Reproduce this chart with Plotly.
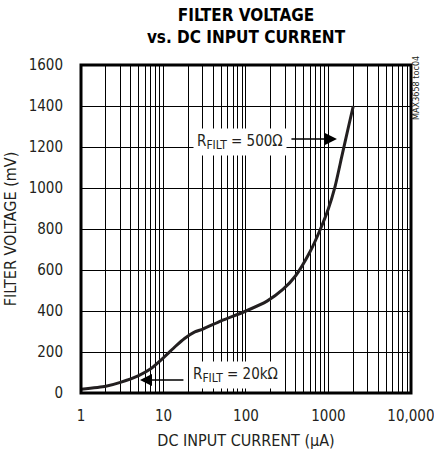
import plotly.graph_objects as go

current_uA = [1, 2, 3, 5, 7, 10, 14, 18, 24, 30, 50, 100, 180, 280, 400, 600, 800, 1000, 1200, 1450, 1750, 2000]
filter_mV = [18, 33, 52, 85, 118, 172, 228, 266, 298, 312, 352, 400, 448, 505, 572, 690, 800, 900, 1006, 1153, 1299, 1400]

x_tickvals = [1, 10, 100, 1000, 10000]
x_ticktext = ["1", "10", "100", "1000", "10,000"]
y_tickvals = [0, 200, 400, 600, 800, 1000, 1200, 1400, 1600]

FONT = "Liberation Sans Narrow, DejaVu Sans Condensed, Arial Narrow, Arial, sans-serif"
INK = "#231f20"
GRID = "#000000"

fig = go.Figure()
fig.add_trace(go.Scatter(x=current_uA, y=filter_mV, mode="lines",
                         line=dict(color=INK, width=3, shape="spline", smoothing=0.6),
                         showlegend=False, hoverinfo="skip"))

fig.update_layout(
    width=434, height=457,
    margin=dict(l=81, r=23, t=65, b=64, autoexpand=False),
    paper_bgcolor="white", plot_bgcolor="white",
    font=dict(family=FONT, size=15, color=INK),
    title=dict(text="<b>FILTER VOLTAGE<br>vs. DC INPUT CURRENT</b>",
               x=246 / 434, xanchor="center", xref="container",
               y=1 - 21 / 457, yanchor="middle", yref="container",
               font=dict(family=FONT, size=17, color="#000")),
    xaxis=dict(type="log", range=[0, 4.0008], tickvals=x_tickvals, ticktext=x_ticktext,
               showgrid=True, gridcolor=GRID, gridwidth=1,
               minor=dict(dtick="D1", showgrid=True, gridcolor=GRID, gridwidth=1),
               showline=False, zeroline=False, ticks="", automargin=False,
               ticklabelstandoff=12, ticklabeloverflow="allow",
               title=dict(text="DC INPUT CURRENT (μA)", standoff=10,
                          font=dict(family=FONT, size=16))),
    yaxis=dict(range=[0, 1600], tickvals=y_tickvals,
               showgrid=True, gridcolor=GRID, gridwidth=1,
               showline=False, zeroline=False, ticks="", automargin=False,
               ticklabelstandoff=17,
               title=dict(text="FILTER VOLTAGE (mV)", standoff=8,
                          font=dict(family=FONT, size=16))),
)

fig.add_shape(type="rect", xref="paper", yref="paper", x0=0, y0=0, x1=1, y1=1,
              line=dict(color="#000", width=3), layer="above")

SUB = "<sub><span style='font-size:12px'>FILT</span></sub>"
# labels with arrows
fig.add_annotation(x=1.927, y=1224, xref="x", yref="y",
                   text="R" + SUB + " = 500Ω", showarrow=False,
                   bgcolor="white", borderpad=3, font=dict(size=15, color=INK))
fig.add_annotation(x=3.103, y=1239, ax=2.533, ay=1239, xref="x", yref="y",
                   axref="x", ayref="y", text="", showarrow=True,
                   arrowhead=2, arrowsize=1.6, arrowwidth=1.5, arrowcolor="#000")
fig.add_annotation(x=1.867, y=88, xref="x", yref="y",
                   text="R" + SUB + " = 20kΩ", showarrow=False,
                   bgcolor="white", borderpad=3, font=dict(size=15, color=INK))
fig.add_annotation(x=0.715, y=63, ax=1.26, ay=63, xref="x", yref="y",
                   axref="x", ayref="y", text="", showarrow=True,
                   arrowhead=2, arrowsize=1.6, arrowwidth=1.5, arrowcolor="#000")
fig.add_annotation(x=1.015, y=0.93, xref="paper", yref="paper",
                   text="MAX3658 toc04", textangle=-90, showarrow=False,
                   xanchor="center", yanchor="middle",
                   font=dict(size=9, color=INK))

fig.write_html("out.html", config={"displayModeBar": False},
               post_script="document.body.style.margin='0';document.body.style.padding='0';")
